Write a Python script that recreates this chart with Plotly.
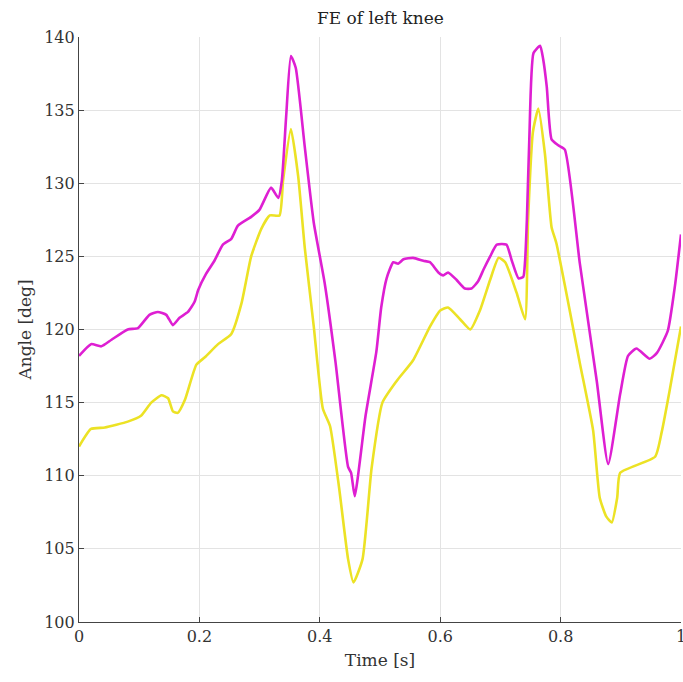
import plotly.graph_objects as go

# Magenta series (time [s], angle [deg])
t_mag = [0.000, 0.020, 0.037, 0.054, 0.081, 0.098, 0.117, 0.131, 0.145, 0.156, 0.167, 0.181,
         0.192, 0.198, 0.211, 0.225, 0.239, 0.253, 0.264, 0.286, 0.300, 0.319, 0.331, 0.337,
         0.344, 0.352, 0.360, 0.375, 0.390, 0.408, 0.426, 0.447, 0.452, 0.458, 0.476, 0.494,
         0.502, 0.511, 0.522, 0.530, 0.539, 0.555, 0.572, 0.583, 0.597, 0.605, 0.613, 0.627,
         0.641, 0.652, 0.663, 0.672, 0.683, 0.694, 0.710, 0.719, 0.730, 0.738, 0.741, 0.744,
         0.748, 0.755, 0.766, 0.771, 0.777, 0.785, 0.796, 0.807, 0.832, 0.860, 0.879, 0.899,
         0.912, 0.926, 0.948, 0.960, 0.978, 0.990, 1.000]
a_mag = [118.2, 119.0, 118.85, 119.3, 120.0, 120.1, 121.0, 121.2, 121.0, 120.3, 120.8, 121.2,
         121.9, 122.7, 123.8, 124.7, 125.8, 126.2, 127.1, 127.7, 128.2, 129.7, 129.0, 130.2,
         134.5, 138.7, 137.9, 132.5, 127.3, 123.2, 117.8, 110.6, 110.2, 108.6, 114.1, 118.5,
         121.5, 123.5, 124.6, 124.5, 124.8, 124.9, 124.7, 124.6, 123.9, 123.7, 123.9, 123.4,
         122.8, 122.8, 123.3, 124.1, 125.0, 125.8, 125.8, 124.7, 123.5, 123.6, 124.7, 127.5,
         133.0, 138.9, 139.4, 138.5, 136.6, 133.0, 132.6, 132.3, 124.5, 116.5, 110.8, 115.6,
         118.2, 118.7, 118.0, 118.4, 119.9, 123.0, 126.5]

# Yellow series (time [s], angle [deg])
t_yel = [0.000, 0.020, 0.043, 0.081, 0.103, 0.120, 0.137, 0.148, 0.156, 0.164, 0.176, 0.195,
         0.209, 0.231, 0.253, 0.270, 0.286, 0.303, 0.317, 0.333, 0.339, 0.352, 0.364, 0.375,
         0.390, 0.405, 0.417, 0.432, 0.447, 0.456, 0.471, 0.486, 0.504, 0.528, 0.555, 0.583,
         0.600, 0.613, 0.633, 0.650, 0.666, 0.683, 0.697, 0.708, 0.727, 0.741, 0.746, 0.754,
         0.763, 0.774, 0.785, 0.793, 0.832, 0.854, 0.865, 0.876, 0.885, 0.894, 0.899, 0.957,
         0.968, 0.981, 1.000]
a_yel = [112.0, 113.2, 113.3, 113.7, 114.1, 115.0, 115.5, 115.3, 114.4, 114.3, 115.2, 117.6,
         118.1, 119.0, 119.7, 121.8, 125.0, 126.9, 127.8, 127.8, 130.2, 133.7, 130.5, 125.6,
         120.2, 114.6, 113.4, 109.2, 104.3, 102.7, 104.3, 110.5, 115.0, 116.5, 117.9, 120.2,
         121.3, 121.5, 120.7, 120.0, 121.3, 123.4, 124.9, 124.6, 122.5, 120.7, 127.5, 133.5,
         135.1, 132.0, 127.0, 125.9, 117.7, 113.1, 108.5, 107.2, 106.8, 108.5, 110.2, 111.3,
         113.0, 115.8, 120.2]

x_ticks = [0, 0.2, 0.4, 0.6, 0.8, 1]
x_labels = ["0", "0.2", "0.4", "0.6", "0.8", "1"]
y_ticks = [100, 105, 110, 115, 120, 125, 130, 135, 140]

FONT = "DejaVu Serif"

fig = go.Figure()
fig.add_trace(go.Scatter(x=t_yel, y=a_yel, mode="lines",
                         line=dict(color="#ECE225", width=2.6, shape="spline", smoothing=0.5),
                         showlegend=False))
fig.add_trace(go.Scatter(x=t_mag, y=a_mag, mode="lines",
                         line=dict(color="#DE1FD2", width=2.6, shape="spline", smoothing=0.5),
                         showlegend=False))

fig.update_layout(
    width=683, height=682,
    margin=dict(l=79, r=2, t=37, b=60, autoexpand=False),
    paper_bgcolor="white", plot_bgcolor="white",
    title=dict(text="FE of left knee", x=0.557, xanchor="center", y=0.973, yanchor="middle",
               font=dict(family=FONT, size=17, color="#222222")),
    font=dict(family=FONT, size=16, color="#333333"),
)
fig.update_xaxes(
    range=[0, 1], tickvals=x_ticks, ticktext=x_labels,
    showgrid=True, gridcolor="#e3e3e3", gridwidth=1,
    showline=True, linecolor="#444444", linewidth=1.2,
    ticks="inside", ticklen=5, tickcolor="#444444",
    zeroline=False, automargin=False, ticklabeloverflow="allow",
    tickfont=dict(family=FONT, size=16, color="#333333"),
    title=dict(text="Time [s]", standoff=8, font=dict(family=FONT, size=17, color="#333333")),
)
fig.update_yaxes(
    range=[100, 140], tickvals=y_ticks,
    showgrid=True, gridcolor="#e3e3e3", gridwidth=1,
    showline=True, linecolor="#444444", linewidth=1.2,
    ticks="inside", ticklen=5, tickcolor="#444444",
    zeroline=False, automargin=False,
    tickfont=dict(family=FONT, size=16, color="#333333"),
    title=dict(text="Angle [deg]", standoff=8, font=dict(family=FONT, size=17, color="#333333")),
)

fig.write_html("out.html")
